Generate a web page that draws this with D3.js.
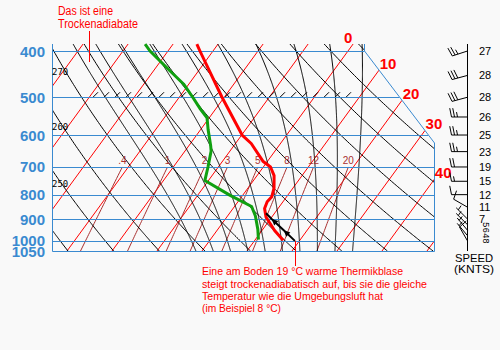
<!DOCTYPE html>
<html><head><meta charset="utf-8">
<script src="https://cdn.jsdelivr.net/npm/d3@7"></script>
<style>body{margin:0;background:#f9f9f9;} svg{display:block;}</style>
</head><body><svg id="c" width="500" height="350"></svg>
<script>
// ---- grid definitions ----
const pressureLevels = [400, 500, 600, 700, 800, 900, 1000, 1050];
const isotherms = [-110, -100, -90, -80, -70, -60, -50, -40, -30, -20, -10, 0, 10, 20, 30, 40, 50];
const isothermLabels = [0, 10, 20, 30, 40];
const dryThetas = [240, 250, 260, 270, 280, 290, 300, 310, 320, 330, 340, 350, 360, 370, 380, 390, 400];
const dryLabels = ["270", "260", "250"];
const dryLabelP = [443, 577, 760];
const moistThetaW = [-4, 0, 4, 8, 12, 16, 20, 24, 28, 32];
const mixRatios = [0.4, 1, 2, 3, 5, 8, 12, 20];
const mixLabels = [".4", "1", "2", "3", "5", "8", "12", "20"];
// ---- sounding data ----
const tempP = [387, 400, 500, 600, 625, 682, 700, 730, 775, 808, 828, 855, 891, 951, 997];
const tempT = [-34.7, -32.9, -20.5, -9.9, -6.5, -0.9, 1.6, 3.8, 5.8, 6.7, 6.5, 7.0, 8.7, 12.8, 16.3];
const dewP = [387, 400, 441, 469, 500, 530, 552, 585, 631, 648, 700, 747, 802, 847, 887, 946, 994];
const dewT = [-46.2, -44, -36.2, -31.2, -27, -23.3, -20.5, -18.3, -15.2, -14.2, -12.3, -10.8, -2.9, 3.8, 6.2, 8.9, 10.7];
const parcelP = [1000, 950, 900, 875];
const parcelT = [19, 14.8, 10.3, 8.1];
const arrowP = [950, 900];
// ---- wind ----
const windP = [400, 450, 500, 550, 600, 650, 700, 750, 800, 850, 900, 925, 950, 975, 1000];
const windSpeed = [27, 28, 28, 26, 25, 23, 19, 15, 12, 11, 7, 5, 6, 4, 8];
const windDir = [252, 255, 255, 270, 270, 270, 270, 270, 270, 300, 315, 315, 320, 320, 330];
const windLabels = ["27", "28", "28", "26", "25", "23", "19", "15", "12", "11", "7", "5", "6", "4", "8"];

const svg = d3.select('#c');
svg.append('rect').attr('width', 500).attr('height', 350).attr('fill', '#f9f9f9');
const yTop = 44, yBot = 251, xL = 52, xR = 434;
const y = d3.scaleLog().domain([400, 1050]).range([51, 251]);
const xT = d3.scaleLinear().domain([0, 10]).range([202, 247]);
const skew = 0.73;
const X = (T, p) => xT(T) + skew * (yBot - y(p));
const pTop = y.invert(yTop);
const BLUE = '#3a8ad0';

const clipPts = [[xL, yTop], [364, yTop], [364, 51], [xR, 143], [xR, yBot], [xL, yBot]];
svg.append('clipPath').attr('id', 'plot').append('polygon').attr('points', clipPts.map(d => d.join(',')).join(' '));
const g = svg.append('g').attr('clip-path', 'url(#plot)');
const gc = g.append('g');
const line = d3.line().x(d => X(d[1], d[0])).y(d => y(d[0]));

// isotherms
isotherms.forEach(T => {
  gc.append('path').attr('d', line([[1050, T], [pTop, T]])).attr('stroke', '#ff0000').attr('fill', 'none').attr('stroke-width', 1);
});
// mixing ratio lines
function tFromW(w, p) { const e = w * p / (622 + w); const l = Math.log(e / 6.112); return 243.5 * l / (17.67 - l); }
const mixG = svg.append('g');
mixRatios.forEach((w, i) => {
  const pts = d3.range(1050, 699, -10).map(p => [p, tFromW(w, p)]);
  gc.append('path').attr('d', line(pts)).attr('stroke', '#a83030').attr('fill', 'none').attr('stroke-width', 1);
  mixG.append('text').attr('x', X(tFromW(w, 700), 700)).attr('y', 164).attr('text-anchor', 'middle')
    .attr('font-family', 'Liberation Sans, Arial, sans-serif').attr('font-size', 10).attr('fill', '#a83030').text(mixLabels[i]);
});
// dry adiabats
dryThetas.forEach(th => {
  const pts = d3.range(1050, pTop - 5, -5).map(p => [p, th * Math.pow(p / 1000, 0.286) - 273.15]);
  gc.append('path').attr('d', line(pts)).attr('stroke', '#000').attr('fill', 'none').attr('stroke-width', 1);
});
// moist adiabats
function esat(Tc) { return 6.112 * Math.exp(17.67 * Tc / (Tc + 243.5)); }
function lapse(Tc, p) {
  const T = Tc + 273.15, es = esat(Tc), rs = 0.622 * es / (p - es);
  const Rd = 287.04, Cp = 1005.7, L = 2.501e6;
  return (Rd * T + L * rs) / (p * (Cp + L * L * rs * 0.622 / (Rd * T * T)));
}
moistThetaW.forEach(tw => {
  const up = []; let T = tw;
  for (let p = 1000; p >= pTop - 2; p -= 2) { up.push([p, T]); T -= lapse(T, p) * 2; }
  const dn = []; T = tw;
  for (let p = 1000; p <= 1052; p += 2) { dn.push([p, T]); T += lapse(T, p) * 2; }
  const pts = dn.reverse().concat(up.slice(1));
  gc.append('path').attr('d', line(pts)).attr('stroke', '#000').attr('fill', 'none').attr('stroke-width', 1);
});
// 500 hPa hatch ticks
d3.range(93, 350, 11).forEach(x0 => {
  gc.append('line').attr('x1', x0).attr('y1', y(500)).attr('x2', x0 + 5).attr('y2', y(500) - 5).attr('stroke', '#000');
});
// pressure lines
pressureLevels.forEach(p => {
  gc.append('line').attr('shape-rendering', 'crispEdges').attr('x1', xL).attr('x2', xR).attr('y1', Math.round(y(p)) + 0.5).attr('y2', Math.round(y(p)) + 0.5).attr('stroke', BLUE).attr('stroke-width', 1);
  svg.append('text').attr('x', 45).attr('y', y(p) + 5.5).attr('text-anchor', 'end').attr('font-family', 'Liberation Sans, Arial, sans-serif')
    .attr('font-weight', 'bold').attr('font-size', 15).attr('fill', BLUE).text(p);
});
// border
svg.append('path').attr('d', `M${xL + 0.5},${yTop}V${yBot + 0.5}H${xR + 0.5}V143L364.5,51V${yTop}`).attr('fill', 'none').attr('stroke', BLUE).attr('stroke-width', 1);

// isotherm labels at boundary
isothermLabels.forEach(T => {
  let best = null;
  for (let yy = yTop; yy <= yBot; yy += 0.25) {
    const p = y.invert(yy); const xx = X(T, p);
    let xb = yy < 51 ? 364 : (yy < 143 ? 364 + (yy - 51) * 70 / 92 : xR);
    if (xx <= xb) { best = [xx, yy]; break; }
  }
  let tx = best[0] + 1, ty = best[1] - 2, anchor = 'start';
  if (best[1] <= yTop + 0.5) { tx = best[0] - 5; ty = yTop - 1; anchor = 'middle'; }
  svg.append('text').attr('x', tx).attr('y', ty).attr('text-anchor', anchor).attr('font-family', 'Liberation Sans, Arial, sans-serif')
    .attr('font-weight', 'bold').attr('font-size', 15).attr('fill', '#ff0000').text(T);
});
// dry adiabat labels
dryLabels.forEach((t, i) => {
  svg.append('text').attr('x', xL).attr('y', y(dryLabelP[i]) + 3).attr('font-family', 'DejaVu Sans Mono, monospace')
    .attr('font-size', 9).attr('fill', '#000').text(t);
});

// profiles
const lineTP = (P, T) => P.map((p, i) => [p, T[i]]);
svg.append('path').attr('d', line(lineTP(dewP, dewT))).attr('stroke', '#10a010').attr('stroke-width', 3).attr('fill', 'none').attr('stroke-linejoin', 'round');
svg.append('path').attr('d', line(lineTP(tempP, tempT))).attr('stroke', '#ff0000').attr('stroke-width', 3).attr('fill', 'none').attr('stroke-linejoin', 'round');
svg.append('path').attr('d', line(lineTP(parcelP, parcelT))).attr('stroke', '#000').attr('stroke-width', 2).attr('fill', 'none');
arrowP.forEach(p => {
  const i = parcelP.indexOf(p);
  const x1 = X(parcelT[i], p), y1 = y(p), x0 = X(parcelT[i - 1], parcelP[i - 1]), y0 = y(parcelP[i - 1]);
  const a = Math.atan2(y1 - y0, x1 - x0);
  const tip = [x1, y1];
  const b1 = [x1 - 7 * Math.cos(a - 0.45), y1 - 7 * Math.sin(a - 0.45)];
  const b2 = [x1 - 7 * Math.cos(a + 0.45), y1 - 7 * Math.sin(a + 0.45)];
  svg.append('polygon').attr('points', [tip, b1, b2].map(d => d.join(',')).join(' ')).attr('fill', '#000');
});

// annotations
const red = '#ff0000';
const af = 'Liberation Sans, Arial, sans-serif';
[["Das ist eine", 58, 15, 55], ["Trockenadiabate", 58, 28, 80]].forEach(d => {
  svg.append('text').attr('x', d[1]).attr('y', d[2]).attr('font-family', af).attr('font-size', 12).attr('fill', red)
    .attr('textLength', d[3]).attr('lengthAdjust', 'spacingAndGlyphs').text(d[0]);
});
svg.append('line').attr('x1', 89.5).attr('y1', 31).attr('x2', 89.5).attr('y2', 62).attr('stroke', red);
[["Eine am Boden 19 °C warme Thermikblase", 275, 201],
 ["steigt trockenadiabatisch auf, bis sie die gleiche", 287.5, 225],
 ["Temperatur wie die Umgebungsluft hat", 300, 181],
 ["(im Beispiel 8 °C)", 312, 79]].forEach(d => {
  svg.append('text').attr('x', 202).attr('y', d[1]).attr('font-family', af).attr('font-size', 11.5).attr('fill', red)
    .attr('textLength', d[2]).attr('lengthAdjust', 'spacingAndGlyphs').text(d[0]);
});
const ax = Math.round(X(parcelT[0], parcelP[0])) + 0.5;
svg.append('line').attr('x1', ax).attr('y1', y(parcelP[0])).attr('x2', ax).attr('y2', 266).attr('stroke', red);

// wind column
const wx = 467.5;
const wg = svg.append('g');
wg.append('line').attr('shape-rendering', 'crispEdges').attr('x1', wx).attr('x2', wx).attr('y1', yTop).attr('y2', yBot).attr('stroke', '#000');
windP.forEach((p, i) => {
  const yy = y(p);
  const dir = windDir[i] * Math.PI / 180;
  const s = [Math.sin(dir), -Math.cos(dir)];
  const L = 16;
  const tip = [wx + L * s[0], yy + L * s[1]];
  const gb = wg.append('g').attr('stroke', '#000').attr('fill', 'none');
  gb.append('line').attr('x1', wx).attr('y1', yy).attr('x2', tip[0]).attr('y2', tip[1]);
  let f = [-s[1], s[0]];
  const fn = [f[0] + 0.2 * s[0], f[1] + 0.2 * s[1]];
  const nl = Math.hypot(fn[0], fn[1]); f = [fn[0] / nl, fn[1] / nl];
  let spd = Math.round(windSpeed[i] / 5) * 5, k = 0;
  while (spd >= 10) { const b = [tip[0] - 3 * k * s[0], tip[1] - 3 * k * s[1]]; gb.append('line').attr('x1', b[0]).attr('y1', b[1]).attr('x2', b[0] + 9 * f[0]).attr('y2', b[1] + 9 * f[1]); spd -= 10; k++; }
  if (spd >= 5) { if (k === 0) k = 1; const b = [tip[0] - 3 * k * s[0], tip[1] - 3 * k * s[1]]; gb.append('line').attr('x1', b[0]).attr('y1', b[1]).attr('x2', b[0] + 5 * f[0]).attr('y2', b[1] + 5 * f[1]); }
  const lab = svg.append('text').attr('font-family', 'Liberation Sans, Arial, sans-serif').attr('fill', '#000').text(windLabels[i]);
  if (p <= 900) lab.attr('x', 479).attr('y', yy + 4).attr('font-size', 11);
  else lab.attr('font-size', 9).attr('text-anchor', 'middle').attr('transform', `translate(483,${yy}) rotate(90)`);
});
svg.append('text').attr('x', 455).attr('y', 262).attr('font-family', af).attr('font-size', 11).attr('textLength', 38).attr('lengthAdjust', 'spacingAndGlyphs').text('SPEED');
svg.append('text').attr('x', 454).attr('y', 273).attr('font-family', af).attr('font-size', 11).attr('textLength', 40).attr('lengthAdjust', 'spacingAndGlyphs').text('(KNTS)');
</script></body></html>
